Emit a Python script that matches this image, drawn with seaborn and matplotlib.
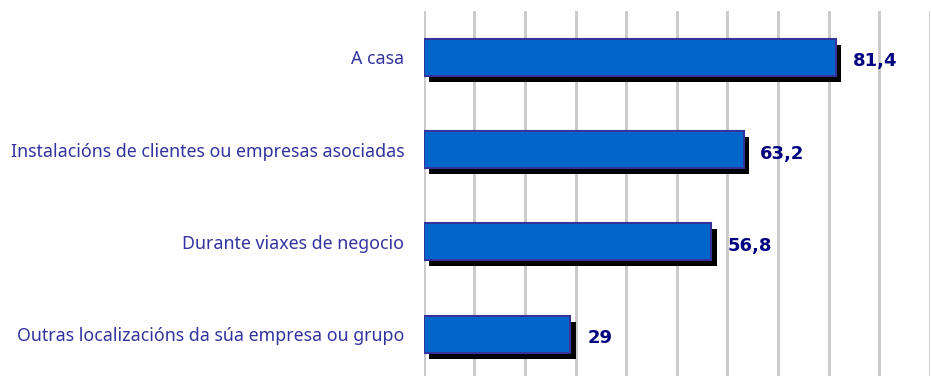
import matplotlib
matplotlib.use("Agg")
import matplotlib.pyplot as plt
import matplotlib.patheffects as pe
import pandas as pd
import seaborn as sns

categories = [
    "A casa",
    "Instalacións de clientes ou empresas asociadas",
    "Durante viaxes de negocio",
    "Outras localizacións da súa empresa ou grupo",
]
values = [81.4, 63.2, 56.8, 29]
value_labels = ["81,4", "63,2", "56,8", "29"]

df = pd.DataFrame({"lugar": categories, "pct": values})

sns.set_theme(style="white")
plt.rcParams["font.family"] = ["Noto Sans", "DejaVu Sans"]

fig = plt.figure(figsize=(9.31, 3.76), dpi=100)
ax = fig.add_axes([0.455, -0.012, 0.544, 0.983])

sns.barplot(
    data=df, x="pct", y="lugar", orient="h", ax=ax,
    color="#0066cc", saturation=1, width=0.4,
    edgecolor="#333399", linewidth=1.5,
)
for bar in ax.patches:
    bar.set_path_effects([
        pe.SimplePatchShadow(offset=(4, -4.3), shadow_rgbFace="black", alpha=1.0),
        pe.Normal(),
    ])

ax.set_xlim(0, 100)
ax.set_ylim(3.5, -0.5)
ax.set_xticks(range(0, 101, 10))
ax.xaxis.grid(True, color="#c8c8c8", linewidth=2)
ax.yaxis.grid(False)
ax.set_axisbelow(True)
ax.tick_params(axis="x", bottom=False, labelbottom=False)
ax.tick_params(axis="y", left=False, length=0, pad=14, labelsize=12.8, labelcolor="#3333a0")
for s in ax.spines.values():
    s.set_visible(False)
ax.set_xlabel("")
ax.set_ylabel("")

for i, (v, lab) in enumerate(zip(values, value_labels)):
    ax.annotate(lab, xy=(v, i), xytext=(12, -3), textcoords="offset points",
                ha="left", va="center", fontsize=13, fontweight="bold",
                color="#000080", family=["DejaVu Sans"])

fig.savefig("out.png", dpi=100)
